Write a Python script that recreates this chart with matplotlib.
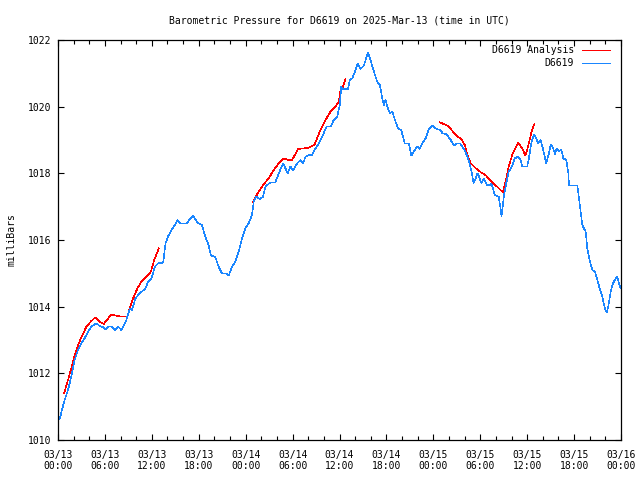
from datetime import datetime, timedelta

import matplotlib
matplotlib.use("Agg")
import matplotlib.pyplot as plt
import matplotlib.dates as mdates


START = datetime(2025, 3, 13, 0, 0)
END = datetime(2025, 3, 16, 0, 0)
TITLE = "Barometric Pressure for D6619 on 2025-Mar-13 (time in UTC)"

# station obs: hours after START, pressure (mb)
obs_hours = [
    0.2, 0.3, 0.5, 0.85, 1.28, 1.7, 2.13, 2.56, 3.0, 3.4, 3.85, 4.27, 4.9, 5.34,
    5.77, 6.1, 6.4, 6.83, 7.26, 7.7, 8.1, 8.45, 8.75, 9.18, 9.48, 9.9, 10.46,
    11.2, 11.53, 11.95, 12.39, 12.81, 13.45, 13.75, 14.1, 14.52, 14.95, 15.28,
    15.59, 16.44, 16.87, 17.3, 17.85, 18.4, 18.83, 19.26, 19.56, 20.1, 20.54,
    20.97, 21.52, 21.83, 22.26, 22.68, 23.1, 23.53, 23.96, 24.38, 24.81, 25.03,
    25.37, 25.8, 26.22, 26.52, 27.16, 27.8, 28.23, 28.79, 29.38, 29.72, 30.07,
    30.58, 31.0, 31.35, 31.65, 32.07, 32.5, 32.93, 33.35, 33.78, 34.34, 34.85,
    35.27, 35.71, 36.04, 36.22, 36.47, 37.07, 37.32, 37.63, 38.05, 38.35, 38.7,
    39.12, 39.63, 39.97, 40.4, 40.83, 41.17, 41.47, 41.68, 41.9, 42.1, 42.44,
    42.75, 43.17, 43.47, 43.9, 44.33, 44.88, 45.19, 45.52, 45.96, 46.25, 46.6,
    47.02, 47.37, 47.88, 48.43, 48.94, 49.16, 49.71, 50.22, 50.65, 50.96, 51.42,
    51.86, 52.28, 52.57, 52.89, 53.14, 53.43, 53.65, 53.86, 54.15, 54.45, 54.87,
    55.18, 55.43, 55.86, 56.37, 56.59, 56.72, 57.01, 57.32, 57.65, 58.0, 58.42,
    58.85, 59.16, 59.36, 60.0, 60.22, 60.56, 60.86, 61.16, 61.41, 61.72, 62.01,
    62.44, 62.79, 63.0, 63.3, 63.56, 63.77, 64.06, 64.37, 64.62, 65.01, 65.27,
    65.35, 66.41, 66.63, 66.84, 67.05, 67.48, 67.69, 68.03, 68.33, 68.68, 68.97,
    69.27, 69.6, 69.95, 70.17, 70.37, 70.68, 70.98, 71.32, 71.53, 71.75, 71.96,
]
obs_mb = [
    1010.62, 1010.70, 1010.90, 1011.20, 1011.50, 1011.90, 1012.40, 1012.70,
    1012.90, 1013.05, 1013.25, 1013.40, 1013.50, 1013.42, 1013.38, 1013.32,
    1013.40, 1013.40, 1013.30, 1013.40, 1013.30, 1013.45, 1013.60, 1013.95,
    1013.90, 1014.25, 1014.40, 1014.55, 1014.75, 1014.85, 1015.20, 1015.30,
    1015.32, 1015.90, 1016.12, 1016.30, 1016.45, 1016.60, 1016.50, 1016.50,
    1016.62, 1016.72, 1016.52, 1016.45, 1016.10, 1015.85, 1015.53, 1015.50,
    1015.20, 1015.00, 1015.00, 1014.93, 1015.20, 1015.35, 1015.65, 1016.05,
    1016.35, 1016.50, 1016.75, 1017.15, 1017.30, 1017.23, 1017.30, 1017.60,
    1017.73, 1017.73, 1018.00, 1018.30, 1018.00, 1018.20, 1018.10, 1018.30,
    1018.40, 1018.30, 1018.50, 1018.55, 1018.55, 1018.75, 1018.90, 1019.10,
    1019.40, 1019.40, 1019.60, 1019.70, 1020.05, 1020.60, 1020.53, 1020.53,
    1020.80, 1020.85, 1021.10, 1021.30, 1021.13, 1021.23, 1021.63, 1021.40,
    1021.05, 1020.75, 1020.65, 1020.25, 1020.05, 1020.20, 1020.00, 1019.80,
    1019.85, 1019.55, 1019.35, 1019.30, 1018.90, 1018.90, 1018.53, 1018.67,
    1018.80, 1018.73, 1018.90, 1019.05, 1019.30, 1019.43, 1019.33, 1019.30,
    1019.20, 1019.17, 1019.00, 1018.83, 1018.90, 1018.90, 1018.75, 1018.55,
    1018.35, 1018.05, 1017.70, 1017.85, 1018.00, 1017.90, 1017.70, 1017.83,
    1017.65, 1017.63, 1017.70, 1017.35, 1017.30, 1016.95, 1016.70, 1017.30,
    1017.70, 1018.05, 1018.18, 1018.45, 1018.50, 1018.40, 1018.20, 1018.20,
    1018.45, 1018.95, 1019.17, 1019.05, 1018.90, 1019.00, 1018.75, 1018.30,
    1018.60, 1018.87, 1018.77, 1018.57, 1018.75, 1018.65, 1018.72, 1018.45,
    1018.40, 1018.00, 1017.63, 1017.63, 1017.25, 1016.85, 1016.45, 1016.25,
    1015.75, 1015.35, 1015.10, 1015.05, 1014.80, 1014.55, 1014.30, 1013.95,
    1013.83, 1014.00, 1014.45, 1014.70, 1014.85, 1014.90, 1014.70, 1014.55,
]

# analysis runs (three separate pieces)
an1_hours = [0.77, 1.28, 1.7, 2.13, 2.65, 3.07, 3.63, 4.18, 4.78, 5.34, 5.85, 6.32,
             6.83, 7.6, 8.33, 8.84, 9.18, 9.61, 10.16, 10.67, 11.19, 11.88, 12.3, 12.9]
an1_mb = [1011.40, 1011.80, 1012.15, 1012.55, 1012.90, 1013.12, 1013.40, 1013.55,
          1013.68, 1013.55, 1013.48, 1013.62, 1013.77, 1013.72, 1013.70, 1013.70,
          1013.95, 1014.25, 1014.55, 1014.75, 1014.88, 1015.05, 1015.40, 1015.75]
an2_hours = [24.94, 25.53, 26.22, 26.94, 27.59, 28.23, 28.87, 29.38, 29.94, 30.71,
             31.43, 32.07, 32.8, 33.48, 34.21, 34.85, 35.49, 35.91, 36.13, 36.35, 36.77]
an2_mb = [1017.13, 1017.40, 1017.65, 1017.85, 1018.10, 1018.30, 1018.45, 1018.40,
          1018.40, 1018.73, 1018.75, 1018.77, 1018.85, 1019.25, 1019.60, 1019.85,
          1020.00, 1020.15, 1020.50, 1020.55, 1020.82]
an3_hours = [48.85, 49.58, 50.01, 50.57, 51.08, 51.6, 52.02, 52.37, 52.79, 53.43,
             54.08, 54.66, 55.5, 56.28, 56.88, 57.23, 57.65, 58.08, 58.51, 58.85,
             59.36, 59.79, 60.22, 60.56, 60.9]
an3_mb = [1019.53, 1019.45, 1019.40, 1019.23, 1019.10, 1019.03, 1018.85, 1018.55,
          1018.30, 1018.15, 1018.03, 1017.95, 1017.75, 1017.57, 1017.43, 1017.75,
          1018.20, 1018.55, 1018.77, 1018.93, 1018.75, 1018.53, 1018.90, 1019.25,
          1019.47]

Y_TICKS = [1010, 1012, 1014, 1016, 1018, 1020, 1022]

RED = "#ff0000"
BLUE = "#1a86ff"
LW = 0.4


def to_times(hours):
    return [START + timedelta(hours=h) for h in hours]


def main():
    plt.rcParams["font.family"] = ["DejaVu Sans Mono"]
    plt.rcParams["font.size"] = 7
    plt.rcParams["lines.antialiased"] = False

    fig = plt.figure(figsize=(6.4, 4.8), dpi=100)
    ax = fig.add_axes([58 / 640, 40 / 480, 563 / 640, 400 / 480])

    ax.plot(to_times(an1_hours), an1_mb, color=RED, lw=LW, label="D6619 Analysis")
    ax.plot(to_times(an2_hours), an2_mb, color=RED, lw=LW)
    ax.plot(to_times(an3_hours), an3_mb, color=RED, lw=LW)
    ax.plot(to_times(obs_hours), obs_mb, color=BLUE, lw=LW, label="D6619")

    ax.set_xlim(START, END)
    ax.set_ylim(1010, 1022)
    ax.set_yticks(Y_TICKS)
    ax.set_yticklabels([str(v) for v in Y_TICKS])

    ax.xaxis.set_major_locator(mdates.HourLocator(byhour=[0, 6, 12, 18]))
    ax.xaxis.set_minor_locator(mdates.HourLocator(interval=2))
    ax.xaxis.set_major_formatter(mdates.DateFormatter("%m/%d\n%H:%M"))

    ax.tick_params(which="both", direction="in", top=True, right=True, width=0.8)
    ax.tick_params(which="major", length=4, pad=5)
    ax.tick_params(which="minor", length=3)
    ax.tick_params(axis="x", which="major", pad=7)
    for sp in ax.spines.values():
        sp.set_linewidth(0.9)

    ax.set_ylabel("milliBars")
    ax.yaxis.set_label_coords(-0.074, 0.5)
    ax.set_title(TITLE, pad=12, fontsize=7)

    ax.legend(loc="upper right", bbox_to_anchor=(0.986, 0.994),
              frameon=False, markerfirst=False,
              handlelength=2.9, handletextpad=0.8, labelspacing=0.3,
              borderaxespad=0.0, borderpad=0.3)

    fig.savefig("out.png", dpi=100)


if __name__ == "__main__":
    main()
